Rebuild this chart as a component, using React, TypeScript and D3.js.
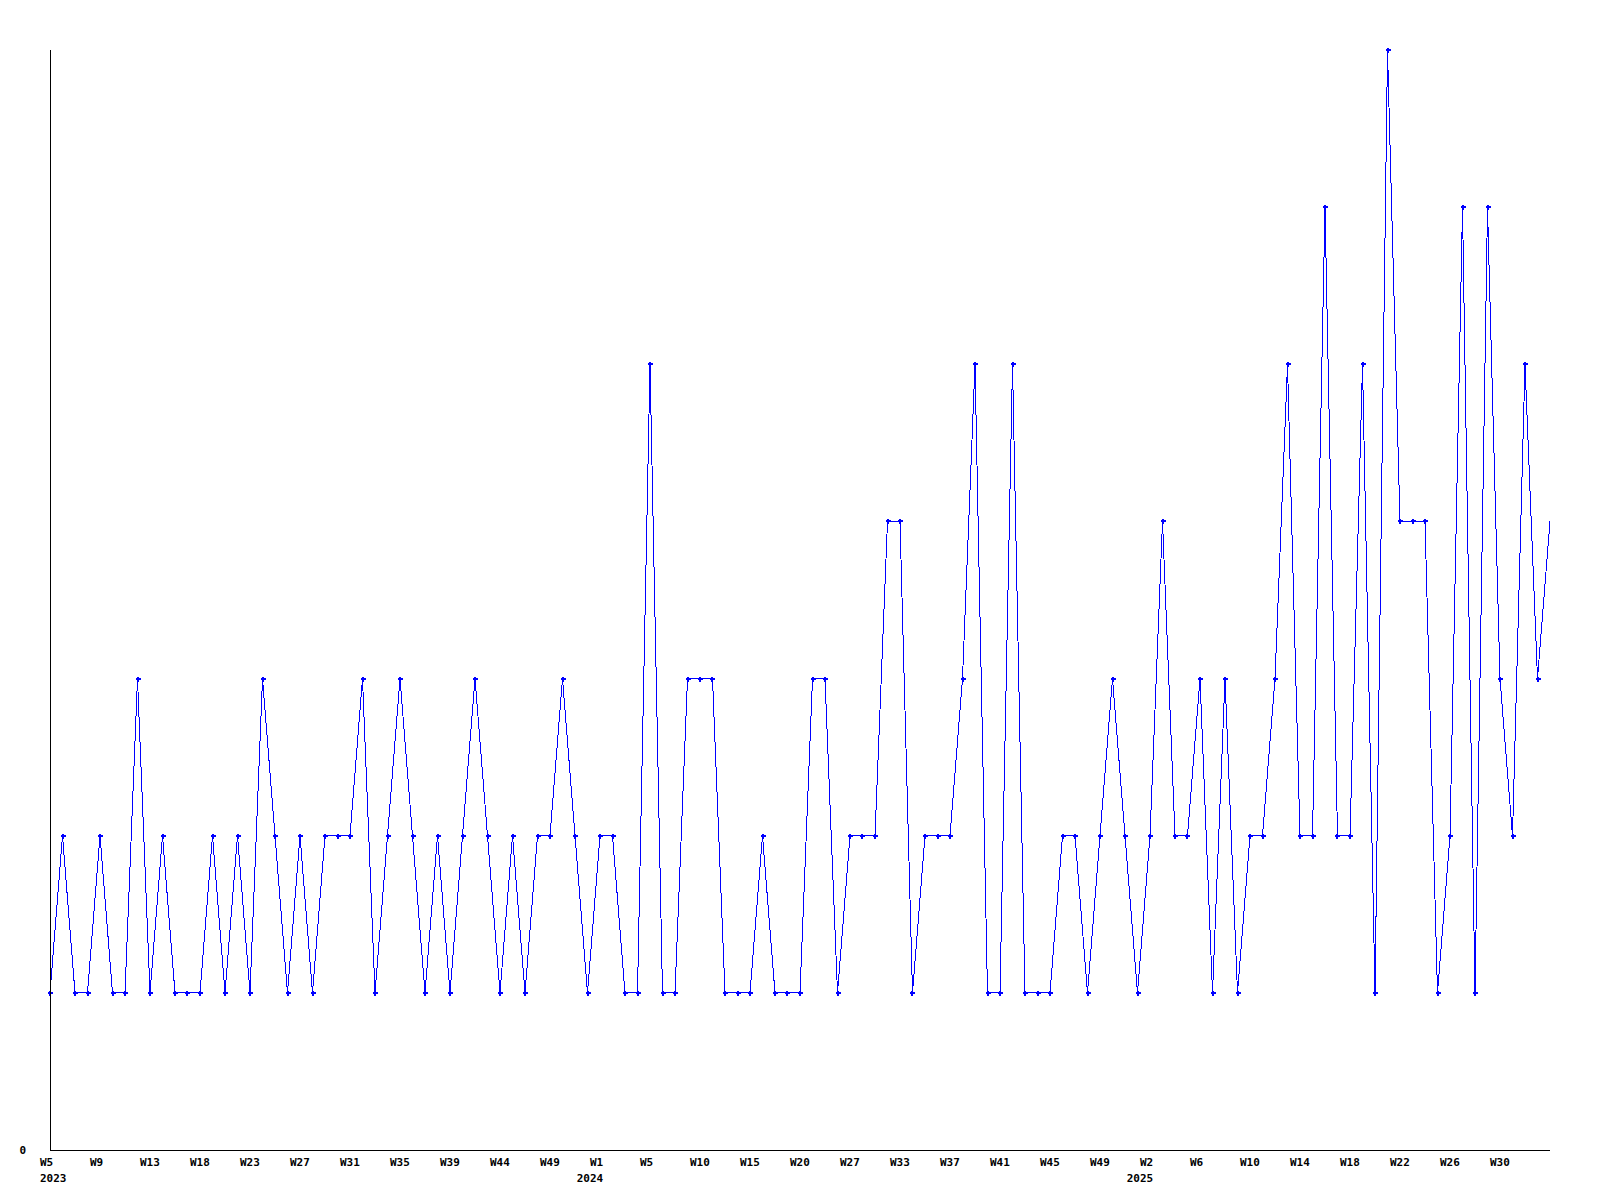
import React from "react";
import * as d3 from "d3";

const values: number[] = [
  1, 2, 1, 1, 2, 1, 1, 3, 1, 2, 1, 1, 1, 2, 1, 2, 1, 3, 2, 1,
  2, 1, 2, 2, 2, 3, 1, 2, 3, 2, 1, 2, 1, 2, 3, 2, 1, 2, 1, 2,
  2, 3, 2, 1, 2, 2, 1, 1, 5, 1, 1, 3, 3, 3, 1, 1, 1, 2, 1, 1,
  1, 3, 3, 1, 2, 2, 2, 4, 4, 1, 2, 2, 2, 3, 5, 1, 1, 5, 1, 1,
  1, 2, 2, 1, 2, 3, 2, 1, 2, 4, 2, 2, 3, 1, 3, 1, 2, 2, 3, 5,
  2, 2, 6, 2, 2, 5, 1, 7, 4, 4, 4, 1, 2, 6, 1, 6, 3, 2, 5, 3,
  4,
];

const tickLabels: string[] = [
  "W5", "W9", "W13", "W18", "W23", "W27", "W31", "W35", "W39", "W44",
  "W49", "W1", "W5", "W10", "W15", "W20", "W27", "W33", "W37", "W41",
  "W45", "W49", "W2", "W6", "W10", "W14", "W18", "W22", "W26", "W30",
];
const tickEvery = 4;

const yearLabels: { tick: number; year: string }[] = [
  { tick: 0, year: "2023" },
  { tick: 11, year: "2024" },
  { tick: 22, year: "2025" },
];

const yMax = 7;

export default function App() {
  const W = 1600;
  const H = 1200;
  const left = 50;
  const right = 1550;
  const top = 50;
  const bottom = 1150;

  const x = d3.scaleLinear().domain([0, values.length - 1]).range([left, right]);
  const y = d3.scaleLinear().domain([0, yMax]).range([bottom, top]);

  const line = d3
    .line<number>()
    .x((_, i) => x(i))
    .y((d) => y(d));

  const font = "'DejaVu Sans Mono', 'Liberation Mono', monospace";

  return (
    <svg
      width={W}
      height={H}
      style={{ position: "absolute", left: 0, top: 0, background: "#fff" }}
    >
      <rect x={0} y={0} width={W} height={H} fill="#fff" />
      <path
        d={line(values) || ""}
        fill="none"
        stroke="#0000ff"
        strokeWidth={1}
        shapeRendering="crispEdges"
      />
      {values.slice(0, values.length - 1).map((v, i) => {
        const cx = Math.round(x(i));
        const cy = Math.round(y(v));
        return (
          <g key={i} shapeRendering="crispEdges" fill="#0000ff">
            <rect x={cx - 2} y={cy - 1} width={5} height={2} />
            <rect x={cx - 1} y={cy - 2} width={2} height={5} />
          </g>
        );
      })}
      <line x1={left} y1={top} x2={left} y2={bottom} stroke="#000" strokeWidth={1} shapeRendering="crispEdges" />
      <line x1={left} y1={bottom} x2={right} y2={bottom} stroke="#000" strokeWidth={1} shapeRendering="crispEdges" />
      <text
        x={26}
        y={bottom + 4}
        textAnchor="end"
        fontFamily={font}
        fontWeight="bold"
        fontSize={11}
        fill="#000"
      >
        0
      </text>
      {tickLabels.map((t, k) => (
        <text
          key={k}
          x={x(k * tickEvery) - 10}
          y={bottom + 16}
          textAnchor="start"
          fontFamily={font}
          fontWeight="bold"
          fontSize={11}
          fill="#000"
        >
          {t}
        </text>
      ))}
      {yearLabels.map((yl, k) => (
        <text
          key={k}
          x={x(yl.tick * tickEvery) - 10}
          y={bottom + 32}
          textAnchor={k === 0 ? "start" : "middle"}
          fontFamily={font}
          fontWeight="bold"
          fontSize={11}
          fill="#000"
        >
          {yl.year}
        </text>
      ))}
    </svg>
  );
}
